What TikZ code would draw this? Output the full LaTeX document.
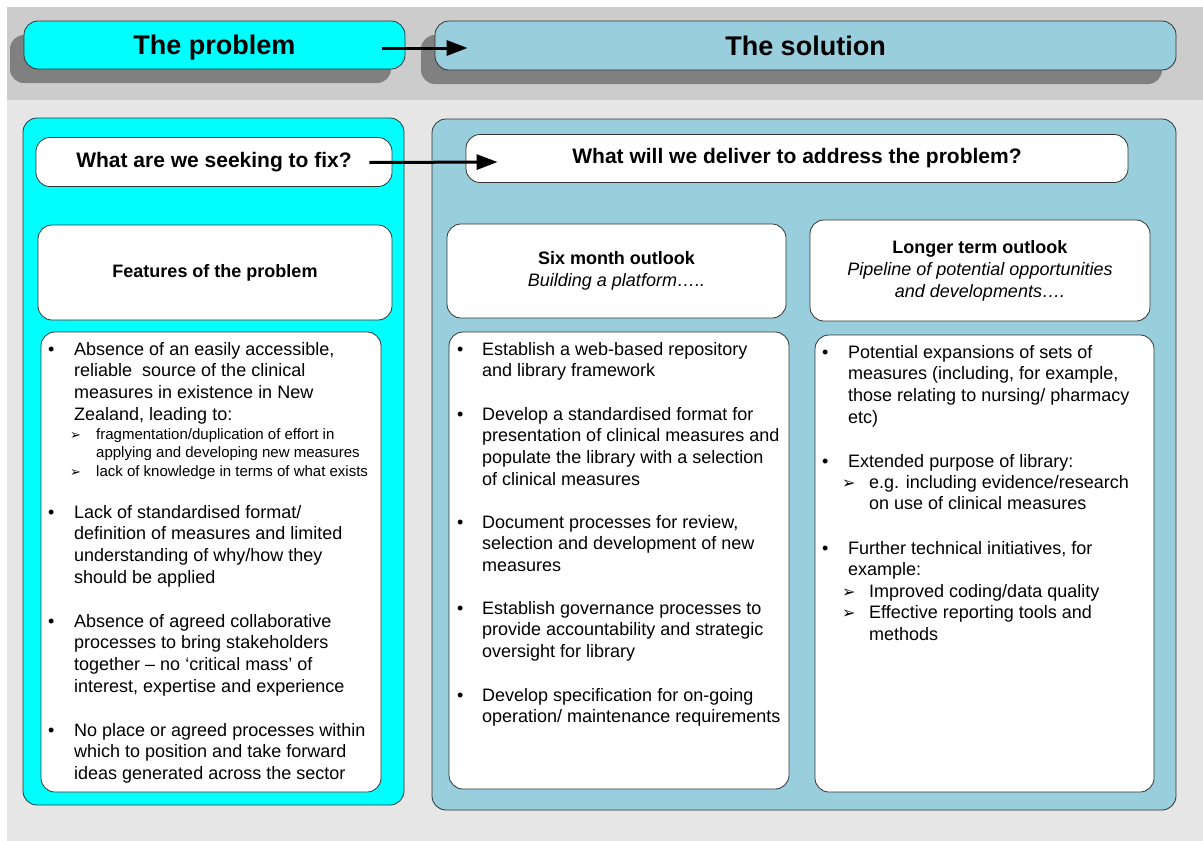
\documentclass[tikz,border=0pt]{standalone}
\usepackage{fontspec}
\setmainfont{Liberation Sans}
\newfontfamily\dingfont{DejaVu Sans}
\usetikzlibrary{arrows.meta,shadows}

\definecolor{bandgray}{HTML}{CCCCCC}
\definecolor{pagegray}{HTML}{E6E6E6}
\definecolor{shadowgray}{HTML}{808080}
\definecolor{probcyan}{HTML}{00FFFF}
\definecolor{solblue}{HTML}{99CEDC}
\definecolor{edgegray}{HTML}{333333}

\newcommand{\bodysize}{\fontsize{18}{21.7}\selectfont}
\newcommand{\smallsize}{\fontsize{15}{18.5}\selectfont}
\newcommand{\bigarr}{{\dingfont\fontsize{16}{16}\selectfont ➢}}
\newcommand{\smallarr}{{\dingfont\fontsize{13}{13}\selectfont ➢}}

\tikzset{
  box/.style={draw=edgegray, line width=0.8pt, rounded corners=14pt, fill=white, inner sep=0pt, align=center},
  headbox/.style={box, drop shadow={shadow xshift=-14pt, shadow yshift=-14pt, fill=shadowgray, opacity=1},
    font=\fontsize{27}{30}\selectfont\bfseries, text height=24pt, text depth=5pt},
  panel/.style={draw=edgegray, line width=0.8pt, rounded corners=14pt, inner sep=0pt},
  question/.style={box, font=\fontsize{21}{24}\selectfont\bfseries},
  outlook/.style={box, font=\fontsize{18}{22}\selectfont},
  entry/.style={anchor=base west, inner sep=0pt, font=\bodysize},
  subentry/.style={anchor=base west, inner sep=0pt, font=\smallsize},
  bigarrow/.style={line width=3pt, -{Triangle[length=21pt,width=15pt]}}
}

\begin{document}
\begin{tikzpicture}[x=1pt, y=-1pt]
  \useasboundingbox (0,0) rectangle (1203,841);
  % background
  \fill[white] (0,0) rectangle (1203,841);
  \fill[pagegray] (7,7) rectangle (1203,841);
  \fill[bandgray] (7,7) rectangle (1203,100);

  % top row
  \node[headbox, fill=probcyan, minimum width=381pt, minimum height=48pt] (problem) at (214.5,45) {The problem};
  \node[headbox, fill=solblue, minimum width=741pt, minimum height=49pt] (solution) at (805.5,45.5) {The solution};
  \draw[bigarrow] ([xshift=-23pt,yshift=-3pt]problem.east) -- ([xshift=33pt,yshift=-2.5pt]solution.west);

  % panels
  \node[panel, fill=probcyan, minimum width=381pt, minimum height=687pt] (leftpanel) at (213.5,461.5) {};
  \node[panel, fill=solblue, minimum width=744pt, minimum height=691pt] (rightpanel) at (804,464.5) {};

  \node[question, minimum width=356pt, minimum height=49pt] (fix) at (214,162) {What are we seeking to fix?};
  \node[question, minimum width=662pt, minimum height=48pt] (deliver) at (797,158.5) {What will we deliver to address the problem?};
  \draw[bigarrow] ([xshift=-23pt,yshift=-0.5pt]fix.east) -- ([xshift=32pt,yshift=-3.5pt]deliver.west);

  \node[outlook, minimum width=354pt, minimum height=95pt] (features) at (215,272.5) {\textbf{Features of the problem}};
  \node[outlook, minimum width=339pt, minimum height=94pt] (sixmonth) at (616.5,271)
    {\textbf{Six month outlook}\\\textit{Building a platform…..}};
  \node[outlook, minimum width=340pt, minimum height=101pt] (longterm) at (980,270.5)
    {\textbf{Longer term outlook}\\\textit{Pipeline of potential opportunities}\\\textit{and developments….}};

  % list boxes
  \node[box, minimum width=340pt, minimum height=460pt] (leftlist) at (211,562) {};
  \node[box, minimum width=340pt, minimum height=457pt] (midlist) at (619,560.5) {};
  \node[box, minimum width=339pt, minimum height=457pt] (rightlist) at (984.5,563.5) {};

  % features of the problem
  \node[entry] (l1) at (48,355) {\begin{tabular}[t]{@{}p{26pt}@{}l@{}}
    \textbullet & Absence of an easily accessible,\\
    & reliable\ \ source of the clinical\\
    & measures in existence in New\\
    & Zealand, leading to:\end{tabular}};
  \node[subentry] (l1sub) at (70,439) {\begin{tabular}[t]{@{}p{26pt}@{}l@{}}
    \smallarr & fragmentation/duplication of effort in\\
    & applying and developing new measures\\
    \smallarr & lack of knowledge in terms of what exists\end{tabular}};
  \node[entry] (l2) at (48,518) {\begin{tabular}[t]{@{}p{26pt}@{}l@{}}
    \textbullet & Lack of standardised format/\\
    & definition of measures and limited\\
    & understanding of why/how they\\
    & should be applied\end{tabular}};
  \node[entry] (l3) at (48,627) {\begin{tabular}[t]{@{}p{26pt}@{}l@{}}
    \textbullet & Absence of agreed collaborative\\
    & processes to bring stakeholders\\
    & together – no ‘critical mass’ of\\
    & interest, expertise and experience\end{tabular}};
  \node[entry] (l4) at (48,736) {\begin{tabular}[t]{@{}p{26pt}@{}l@{}}
    \textbullet & No place or agreed processes within\\
    & which to position and take forward\\
    & ideas generated across the sector\end{tabular}};

  % six month outlook
  \node[entry] (m1) at (457,355) {\begin{tabular}[t]{@{}p{25pt}@{}l@{}}
    \textbullet & Establish a web-based repository\\
    & and library framework\end{tabular}};
  \node[entry] (m2) at (457,420) {\begin{tabular}[t]{@{}p{25pt}@{}l@{}}
    \textbullet & Develop a standardised format for\\
    & presentation of clinical measures and\\
    & populate the library with a selection\\
    & of clinical measures\end{tabular}};
  \node[entry] (m3) at (457,528) {\begin{tabular}[t]{@{}p{25pt}@{}l@{}}
    \textbullet & Document processes for review,\\
    & selection and development of new\\
    & measures\end{tabular}};
  \node[entry] (m4) at (457,614) {\begin{tabular}[t]{@{}p{25pt}@{}l@{}}
    \textbullet & Establish governance processes to\\
    & provide accountability and strategic\\
    & oversight for library\end{tabular}};
  \node[entry] (m5) at (457,701) {\begin{tabular}[t]{@{}p{25pt}@{}l@{}}
    \textbullet & Develop specification for on-going\\
    & operation/ maintenance requirements\end{tabular}};

  % longer term outlook
  \node[entry] (r1) at (822,358) {\begin{tabular}[t]{@{}p{26pt}@{}l@{}}
    \textbullet & Potential expansions of sets of\\
    & measures (including, for example,\\
    & those relating to nursing/ pharmacy\\
    & etc)\end{tabular}};
  \node[entry] (r2) at (822,467) {\begin{tabular}[t]{@{}p{26pt}@{}l@{}}
    \textbullet & Extended purpose of library:\end{tabular}};
  \node[entry] (r2sub) at (842,488) {\begin{tabular}[t]{@{}p{27pt}@{}l@{}}
    \bigarr & e.g. including evidence/research\\
    & on use of clinical measures\end{tabular}};
  \node[entry] (r3) at (822,554) {\begin{tabular}[t]{@{}p{26pt}@{}l@{}}
    \textbullet & Further technical initiatives, for\\
    & example:\end{tabular}};
  \node[entry] (r3sub) at (842,597) {\begin{tabular}[t]{@{}p{27pt}@{}l@{}}
    \bigarr & Improved coding/data quality\\
    \bigarr & Effective reporting tools and\\
    & methods\end{tabular}};
\end{tikzpicture}
\end{document}
